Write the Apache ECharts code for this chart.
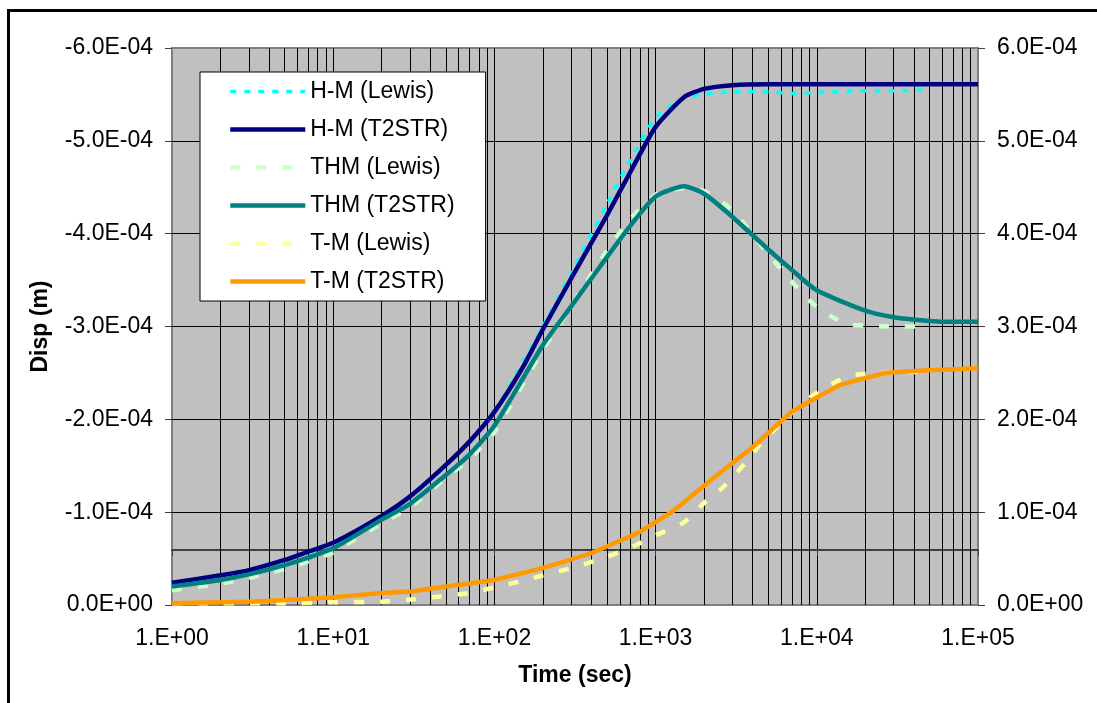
<!DOCTYPE html>
<html><head><meta charset="utf-8">
<script src="https://cdn.jsdelivr.net/npm/echarts@6/dist/echarts.min.js"></script>
<style>html,body{margin:0;padding:0;background:#fff}#c{width:1097px;height:703px}</style>
</head><body><div id="c"></div>
<script>
// ---- tick labels ----
const xTickValues = [1, 10, 100, 1000, 10000, 100000];
const xTickLabels = ['1.E+00', '1.E+01', '1.E+02', '1.E+03', '1.E+04', '1.E+05'];
const leftTickLabels = ['0.0E+00', '-1.0E-04', '-2.0E-04', '-3.0E-04', '-4.0E-04', '-5.0E-04', '-6.0E-04'];
const rightTickLabels = ['0.0E+00', '1.0E-04', '2.0E-04', '3.0E-04', '4.0E-04', '5.0E-04', '6.0E-04'];
const minorGridX = [2,3,4,5,6,7,8,9, 20,30,40,50,60,70,80,90, 200,300,400,500,600,700,800,900,
  2000,3000,4000,5000,6000,7000,8000,9000, 20000,30000,40000,50000,60000,70000,80000,90000];

// ---- series (time in s, displacement magnitude in 1E-04 m) ----
const names = ['H-M (Lewis)', 'H-M (T2STR)', 'THM (Lewis)', 'THM (T2STR)', 'T-M (Lewis)', 'T-M (T2STR)'];

const hmLewisT = [1,2,3,5,7,10,20,30,50,70,100,200,300,500,700,1000,1500,2000,3000,5000,7000,10000,20000,30000,50000];
const hmLewisV = [0.23,0.31,0.37,0.48,0.57,0.66,0.95,1.16,1.50,1.76,2.09,3.00,3.58,4.32,4.80,5.25,5.46,5.50,5.53,5.53,5.51,5.52,5.54,5.54,5.55];

const hmT2T = [1,2,3,5,7,10,20,30,50,70,100,150,200,300,500,700,1000,1500,2000,3000,5000,7000,10000,20000,50000,100000];
const hmT2V = [0.24,0.32,0.375,0.485,0.575,0.67,0.96,1.17,1.51,1.76,2.08,2.56,2.97,3.52,4.20,4.67,5.15,5.47,5.56,5.60,5.61,5.61,5.61,5.61,5.61,5.61];

const thmLewisT = [1,2,3,5,7,10,20,30,50,70,100,200,300,500,700,1000,1500,2000,3000,5000,7000,10000,15000,20000,30000,50000];
const thmLewisV = [0.16,0.23,0.29,0.39,0.47,0.57,0.88,1.05,1.37,1.57,1.86,2.75,3.22,3.82,4.16,4.42,4.49,4.46,4.25,3.78,3.48,3.21,3.03,3.01,3.00,3.00];

const thmT2T = [1,2,3,5,7,10,20,30,50,70,100,200,300,500,700,1000,1500,2000,3000,5000,7000,10000,20000,30000,50000,70000,100000];
const thmT2V = [0.20,0.27,0.33,0.43,0.51,0.61,0.92,1.09,1.40,1.62,1.93,2.80,3.22,3.75,4.09,4.40,4.51,4.43,4.18,3.83,3.61,3.39,3.17,3.10,3.06,3.05,3.05];

const tmLewisT = [1,2,5,10,20,30,45,70,100,150,200,320,500,700,1000,1500,2000,2700,3600,4600,8200,11500,16000,25000,36000,50000];
const tmLewisV = [0.02,0.02,0.02,0.03,0.035,0.06,0.09,0.13,0.19,0.26,0.32,0.41,0.52,0.62,0.75,0.89,1.10,1.29,1.53,1.76,2.18,2.35,2.47,2.50,2.51,2.51];

const tmT2T = [1,2,3,5,10,20,30,50,100,200,400,800,1300,2000,3000,4000,7000,14000,27000,50000,100000];
const tmT2V = [0.02,0.03,0.035,0.054,0.083,0.13,0.145,0.20,0.27,0.40,0.56,0.79,1.02,1.285,1.53,1.70,2.08,2.37,2.50,2.53,2.55];

const FONT = 'Liberation Sans, Arial, sans-serif';
const toPts = (t, v) => t.map((x, i) => [x, -v[i] * 1e-4]);

function lineSeries(name, t, v, color, width, dash, smooth) {
  return {
    name, type: 'line', data: toPts(t, v), symbol: 'none', showSymbol: false,
    smooth: smooth, silent: true,
    lineStyle: { color: color, width: width, type: dash || 'solid' },
    itemStyle: { color: color }
  };
}

const chart = echarts.init(document.getElementById('c'), null, { renderer: 'canvas' });
chart.setOption({
  animation: false,
  backgroundColor: '#ffffff',
  textStyle: { fontFamily: FONT },
  graphic: [{
    type: 'rect', silent: true, z: 100,
    shape: { x: 8.5, y: 10.5, width: 1200, height: 900 },
    style: { fill: 'none', stroke: '#000', lineWidth: 3 }
  }],
  grid: { left: 172, right: 119, top: 48, bottom: 98, show: true,
    backgroundColor: '#C0C0C0', borderColor: '#808080', borderWidth: 2 },
  legend: {
    orient: 'vertical', left: 200, top: 72,
    itemWidth: 75, itemHeight: 23, itemGap: 15,
    padding: [8, 31, 8, 28],
    backgroundColor: '#ffffff', borderColor: '#000', borderWidth: 1,
    itemStyle: { opacity: 0 },
    lineStyle: { width: 'inherit', type: 'inherit' },
    textStyle: { fontSize: 23, color: '#000', fontFamily: FONT },
    data: names
  },
  xAxis: [{
    type: 'log', logBase: 10, min: 1, max: 100000, position: 'bottom',
    axisLine: { show: false, onZero: false },
    axisTick: { show: false },
    axisLabel: { margin: 22, fontSize: 23, color: '#000', fontFamily: FONT,
      formatter: v => { const i = xTickValues.findIndex(t => Math.abs(t - v) / t < 1e-6); return i >= 0 ? xTickLabels[i] : ''; } },
    splitLine: { show: true, showMinLine: false, showMaxLine: false, lineStyle: { color: '#000', width: 1 } },
    name: 'Time (sec)', nameLocation: 'middle', nameGap: 59,
    nameTextStyle: { fontSize: 23, fontWeight: 'bold', color: '#000', fontFamily: FONT }
  }, {
    type: 'log', logBase: 10, min: 1, max: 100000, position: 'top', offset: -502,
    axisLine: { show: true, onZero: false, lineStyle: { color: '#404040', width: 2 } },
    axisTick: { show: true, inside: true, length: 6, lineStyle: { color: '#404040', width: 1 } },
    axisLabel: { show: false }, splitLine: { show: false }
  }],
  yAxis: [{
    type: 'value', inverse: true, min: -6e-4, max: 0, interval: 1e-4, position: 'left',
    axisLine: { show: false, onZero: false },
    axisTick: { show: true, length: 7, lineStyle: { color: '#404040', width: 1 } },
    axisLabel: { margin: 19, fontSize: 23, color: '#000', fontFamily: FONT,
      formatter: v => leftTickLabels[Math.round(-v / 1e-4)] },
    splitLine: { show: true, showMinLine: false, showMaxLine: false, lineStyle: { color: '#000', width: 1 } },
    name: 'Disp (m)', nameLocation: 'middle', nameGap: 120, nameRotate: 90,
    nameTextStyle: { fontSize: 23, fontWeight: 'bold', color: '#000', fontFamily: FONT }
  }, {
    type: 'value', min: 0, max: 6e-4, interval: 1e-4, position: 'right',
    axisLine: { show: false, onZero: false },
    axisTick: { show: true, length: 7, lineStyle: { color: '#404040', width: 1 } },
    axisLabel: { margin: 19, fontSize: 23, color: '#000', fontFamily: FONT,
      formatter: v => rightTickLabels[Math.round(v / 1e-4)] },
    splitLine: { show: false }
  }],
  series: [
    {
      name: '_grid', type: 'line', data: [], silent: true, symbol: 'none',
      markLine: {
        silent: true, z: 1, symbol: ['none', 'none'], label: { show: false },
        lineStyle: { color: '#000', width: 1, type: 'solid' },
        emphasis: { disabled: true },
        data: minorGridX.map(x => ({ xAxis: x }))
      }
    },
    lineSeries(names[0], hmLewisT, hmLewisV, '#00FFFF', 3.5, [6, 8], 0.2),
    lineSeries(names[1], hmT2T, hmT2V, '#000080', 4.5, null, 0.2),
    lineSeries(names[2], thmLewisT, thmLewisV, '#CCFFCC', 4.5, [10, 16], 0.2),
    lineSeries(names[3], thmT2T, thmT2V, '#008080', 4.5, null, 0.2),
    lineSeries(names[4], tmLewisT, tmLewisV, '#FFFF99', 4.5, [10, 16], 0.2),
    lineSeries(names[5], tmT2T, tmT2V, '#FF9900', 4.5, null, 0.1)
  ]
});
</script>
</body></html>
